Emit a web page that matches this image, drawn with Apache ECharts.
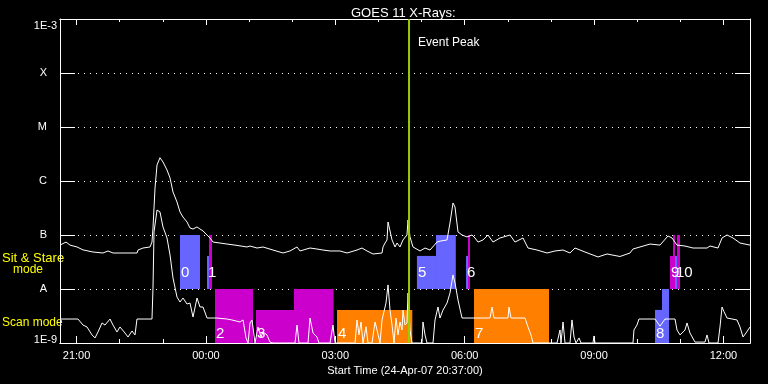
<!DOCTYPE html>
<html><head><meta charset="utf-8">
<script src="https://cdn.jsdelivr.net/npm/echarts@6/dist/echarts.min.js"></script>
<style>html,body{margin:0;padding:0;background:#000}#c{width:768px;height:384px}</style>
</head><body><div id="c"></div>
<script>
// Time in hours since 00:00 24-Apr-07 (24 = 00:00 25-Apr)
const longTime = [20.617,20.756,20.849,21.011,21.150,21.382,21.614,21.730,21.846,22.402,22.426,22.541,22.704,22.750,22.773,22.820,22.866,22.935,23.005,23.098,23.168,23.237,23.330,23.399,23.469,23.562,23.631,23.701,23.794,23.863,23.933,24.026,24.095,24.165,24.327,24.489,24.675,24.953,25.023,25.185,25.324,25.556,25.788,25.950,26.113,26.182,26.414,26.576,26.715,26.878,27.110,27.272,27.504,27.620,27.736,27.875,28.084,28.107,28.153,28.200,28.223,28.269,28.316,28.385,28.432,28.501,28.570,28.663,28.686,28.733,28.802,28.965,29.081,29.197,29.359,29.428,29.591,29.660,29.730,29.776,29.846,29.939,30.055,30.171,30.240,30.310,30.426,30.542,30.657,30.820,31.052,31.167,31.353,31.469,31.678,31.910,32.095,32.281,32.443,32.559,32.791,33.092,33.301,33.602,33.834,33.903,34.066,34.298,34.530,34.715,34.808,34.924,35.109,35.295,35.620,35.690,35.875,35.968,36.084,36.223,36.385,36.617];
const longFlux = [6.5e-8,7.4e-8,6.5e-8,6.0e-8,5.3e-8,4.84e-8,4.64e-8,5.06e-8,4.64e-8,4.64e-8,5.27e-8,5.74e-8,6.0e-8,7.4e-8,1.35e-7,7.4e-7,1.98e-6,2.7e-6,2.25e-6,1.6e-6,1.14e-6,6.25e-7,4.08e-7,2.67e-7,2.15e-7,1.74e-7,1.35e-7,1.29e-7,1.41e-7,1.29e-7,1.19e-7,1.0e-7,8.8e-8,7.4e-8,7.1e-8,6.8e-8,6.5e-8,6.0e-8,6.25e-8,5.74e-8,6.0e-8,5.27e-8,4.64e-8,5.06e-8,6.0e-8,5.06e-8,5.74e-8,5.5e-8,5.27e-8,5.06e-8,5.06e-8,4.64e-8,5.27e-8,5.74e-8,5.06e-8,4.45e-8,4.64e-8,6.0e-8,7.1e-8,8.1e-8,1.74e-7,1.6e-7,8.1e-8,6.0e-8,7.1e-8,6.0e-8,8.1e-8,1.0e-7,1.9e-7,9.2e-8,6.0e-8,5.06e-8,5.74e-8,5.27e-8,7.4e-8,7.7e-8,8.1e-8,1.67e-7,3.92e-7,3.3e-7,1.14e-7,1.0e-7,9.2e-8,1.0e-7,8.8e-8,7.4e-8,8.1e-8,1.0e-7,7.4e-8,8.8e-8,1.0e-7,7.4e-8,8.8e-8,5.74e-8,5.27e-8,4.64e-8,5.06e-8,5.27e-8,4.64e-8,5.74e-8,4.84e-8,3.92e-8,4.45e-8,4.0e-8,4.64e-8,5.5e-8,6.0e-8,6.8e-8,6.5e-8,9.6e-8,8.8e-8,6.5e-8,6.25e-8,5.74e-8,5.74e-8,6.25e-8,5.74e-8,8.8e-8,1.0e-7,8.8e-8,7.1e-8,6.5e-8];

const shortTime = [20.617,21.034,21.150,21.243,21.359,21.428,21.498,21.591,21.660,21.776,21.846,21.938,22.008,22.124,22.194,22.287,22.356,22.402,22.750,22.773,22.797,22.866,22.935,23.005,23.098,23.168,23.237,23.330,23.399,23.469,23.562,23.631,23.701,23.794,23.863,23.933,24.026,24.258,24.489,24.605,24.791,24.861,24.930,24.977,25.023,25.069,25.139,25.208,25.278,25.324,25.417,25.486,25.556,26.066,26.113,26.159,26.368,26.414,26.484,26.576,26.623,26.878,26.947,26.994,27.458,27.504,27.551,27.597,27.643,27.713,27.759,27.852,27.922,27.968,28.038,28.084,28.130,28.176,28.223,28.269,28.316,28.362,28.408,28.455,28.501,28.548,28.570,28.617,28.663,28.686,28.733,28.779,29.011,29.034,29.081,29.127,29.266,29.313,29.382,29.428,29.498,29.591,29.660,29.730,29.776,29.846,29.939,30.357,30.588,30.634,30.681,31.005,31.028,31.075,31.399,31.469,31.539,31.585,32.142,32.211,32.234,32.281,32.327,32.443,32.489,32.536,32.582,32.652,32.698,32.976,32.999,33.022,33.903,33.926,33.996,34.042,34.414,34.530,34.646,34.878,34.924,34.994,35.109,35.156,35.225,35.341,35.573,35.620,35.666,35.875,35.921,35.968,36.014,36.084,36.315,36.385,36.455,36.524,36.617];
const shortFlux = [2.78e-9,2.78e-9,2.15e-9,1.98e-9,1.41e-9,1.24e-9,1.6e-9,2.35e-9,2.15e-9,2.78e-9,2.15e-9,1.6e-9,1.98e-9,1.53e-9,1.29e-9,1.67e-9,1.41e-9,2.78e-9,2.78e-9,1.04e-8,1.14e-7,2.9e-7,2.67e-7,1.41e-7,8.8e-8,4.27e-8,1.6e-8,7.1e-9,5.74e-9,6.8e-9,5.27e-9,5.5e-9,3.03e-9,6.8e-9,4.64e-9,4.64e-9,2.9e-9,2.9e-9,2.78e-9,2.67e-9,2.45e-9,2.67e-9,1.24e-9,1.0e-9,2.35e-9,2.67e-9,1.0e-9,1.98e-9,1.29e-9,1.6e-9,1.41e-9,1.04e-9,1.0e-9,1.0e-9,2.15e-9,1.0e-9,1.0e-9,2.9e-9,1.53e-9,1.29e-9,1.0e-9,1.0e-9,2.15e-9,1.0e-9,1.0e-9,2.67e-9,1.41e-9,2.45e-9,1.0e-9,2.0e-9,1.0e-9,1.0e-9,2.45e-9,1.74e-9,1.0e-9,2.67e-9,2.9e-9,5.5e-9,1.19e-8,4.08e-9,2.15e-9,1.0e-9,2.9e-9,1.41e-9,2.45e-9,1.74e-9,4.08e-9,2.15e-9,2.35e-9,8.4e-9,1.74e-9,1.0e-9,1.0e-9,2.45e-9,1.41e-9,1.0e-9,1.0e-9,2.67e-9,4.64e-9,2.9e-9,4.08e-9,5.5e-9,8.4e-9,1.82e-8,1.3e-8,6.25e-9,2.9e-9,2.9e-9,2.9e-9,4.64e-9,2.9e-9,2.9e-9,4.64e-9,2.9e-9,2.9e-9,1.98e-9,1.41e-9,1.0e-9,1.0e-9,1.74e-9,1.0e-9,2.45e-9,1.0e-9,1.0e-9,2.67e-9,1.29e-9,1.0e-9,1.24e-9,1.0e-9,1.0e-9,1.35e-9,1.0e-9,1.0e-9,1.74e-9,2.15e-9,2.78e-9,2.78e-9,2.05e-9,2.78e-9,2.78e-9,1.74e-9,1.41e-9,1.74e-9,2.35e-9,1.53e-9,1.04e-9,1.04e-9,1.41e-9,1.0e-9,1.0e-9,1.98e-9,4.64e-9,3.8e-9,2.9e-9,2.67e-9,1.98e-9,1.29e-9,1.53e-9,1.98e-9];

// Observation blocks
const blockStart = [23.399,24.026,24.072,24.211,25.162,26.043,27.040,28.893,29.336,30.032,30.078,30.217,34.414,34.576,34.762,34.831,34.878,34.924];
const blockEnd   = [23.863,24.072,24.142,25.092,26.043,26.960,28.786,29.336,29.795,30.078,30.124,31.956,34.576,34.739,34.831,34.878,34.924,34.994];
const blockTop   = [1e-7,4.1e-8,1e-7,1e-8,4.1e-9,1e-8,4.1e-9,4.1e-8,1e-7,4.1e-8,1e-7,1e-8,4.1e-9,1e-8,4.1e-8,1e-7,4.1e-8,1e-7];
const blockMode  = ['stare','stare','stare','scan','scan','scan','scan','stare','stare','stare','stare','scan','scan','scan','stare','stare','stare','stare'];
const blockColor = ['blue','blue','magenta','magenta','magenta','magenta','orange','blue','blue','blue','magenta','orange','blue','blue','magenta','magenta','blue','magenta'];

const obsNames = ['0','1','2','3','4','5','6','7','8','9','10'];
const obsStart = [23.399,24.026,24.211,25.162,27.040,28.893,30.032,30.217,34.414,34.762,34.878];
const obsMode  = ['stare','stare','scan','scan','scan','stare','stare','scan','scan','stare','stare'];

const eventPeak = [28.71];

const yTickLabels = ['1E-9','A','B','C','M','X','1E-3'];
const majorHours = [21,24,27,30,33,36];
const minorHours = [22,23,25,26,28,29,31,32,34,35];

const X_MIN = 20.6167, X_MAX = 36.6167;
const FONT = 'Liberation Sans';
const colorMap = {blue:'#6666ff', magenta:'#cc00cc', orange:'#ff8000'};
const bandBottom = {stare:1e-8, scan:1e-9};
const labelLevel = {stare:2.0e-8, scan:1.5e-9};

function hhmm(v){ const h = Math.round(v) % 24; return (h<10?'0':'')+h+':00'; }
function zip(a,b){ return a.map((t,i)=>[t,b[i]]); }

function xAx(pos, len, vals, extra){
  return Object.assign({type:'value', min:X_MIN, max:X_MAX, position:pos,
    axisLine:{show:true, lineStyle:{color:'#fff', width:1}},
    axisTick:{show:true, inside:true, length:len, customValues:vals, lineStyle:{color:'#fff', width:1}},
    axisLabel:{show:false}, splitLine:{show:false}}, extra||{});
}

const chart = echarts.init(document.getElementById('c'));
chart.setOption({
  backgroundColor:'#000',
  animation:false,
  title:{text:'GOES 11 X-Rays:', left:346, top:2, textStyle:{color:'#fff', fontFamily:FONT, fontSize:13, fontWeight:'normal'}},
  grid:{left:60, right:18, top:19, bottom:41, containLabel:false},
  xAxis:[
    xAx('bottom',7,majorHours,{axisLabel:{show:true, customValues:majorHours, formatter:hhmm, color:'#fff', fontFamily:FONT, fontSize:11, margin:7},
      name:'Start Time (24-Apr-07 20:37:00)', nameLocation:'middle', nameGap:20,
      nameTextStyle:{color:'#fff', fontFamily:FONT, fontSize:11}}),
    xAx('bottom',4,minorHours),
    xAx('top',6,majorHours),
    xAx('top',3,minorHours)
  ],
  yAxis:[
    {type:'log', logBase:10, min:1e-9, max:1e-3, interval:1, position:'left',
      axisLine:{show:true, lineStyle:{color:'#fff', width:1}},
      axisTick:{show:true, inside:true, length:15, lineStyle:{color:'#fff'}},
      axisLabel:{show:true, margin:3, color:'#fff', fontFamily:FONT, fontSize:11,
        formatter:function(v){ const i = Math.round(Math.log10(v))+9; const s = yTickLabels[i];
          if(i===6) return '{t|'+s+'}'; if(i===0) return '{b|'+s+'}'; return '{l|'+s+'}'; },
        rich:{t:{padding:[14,0,0,0], color:'#fff', fontFamily:FONT, fontSize:11},
              b:{padding:[0,0,6,0], color:'#fff', fontFamily:FONT, fontSize:11},
              l:{padding:[0,10,0,0], color:'#fff', fontFamily:FONT, fontSize:11}}},
      splitLine:{show:true, lineStyle:{color:'#fff', width:1, type:[1,5]}}},
    {type:'log', logBase:10, min:1e-9, max:1e-3, interval:1, position:'right',
      axisLine:{show:true, lineStyle:{color:'#fff', width:1}},
      axisTick:{show:true, inside:true, length:15, lineStyle:{color:'#fff'}},
      axisLabel:{show:false}, splitLine:{show:false}}
  ],
  graphic:[
    {type:'text', left:2, top:252, style:{text:'Sit & Stare', fill:'#ffff00', font:'13px "Liberation Sans"'}},
    {type:'text', left:13, top:264, style:{text:'mode', fill:'#ffff00', font:'12px "Liberation Sans"'}},
    {type:'text', left:2, top:317, style:{text:'Scan mode', fill:'#ffff00', font:'12px "Liberation Sans"'}}
  ],
  series:[
    {type:'custom', name:'blocks', z:1, silent:true, clip:true,
      data: blockStart.map((s,i)=>[s, blockEnd[i], blockTop[i], bandBottom[blockMode[i]]]),
      encode:{x:[0,1], y:[2,3]},
      renderItem:function(params, api){
        const p0 = api.coord([api.value(0), api.value(2)]);
        const p1 = api.coord([api.value(1), api.value(3)]);
        return {type:'rect', shape:{x:p0[0], y:p0[1], width:p1[0]-p0[0], height:p1[1]-p0[1]},
          style:{fill:colorMap[blockColor[params.dataIndex]]}};
      }},
    {type:'line', name:'long', z:3, symbol:'none', showSymbol:false, data:zip(longTime,longFlux),
      lineStyle:{color:'#fff', width:1}},
    {type:'line', name:'short', z:3, symbol:'none', showSymbol:false, data:zip(shortTime,shortFlux),
      lineStyle:{color:'#fff', width:1}},
    {type:'custom', name:'labels', z:4, silent:true,
      data: obsStart.map((s,i)=>[s, labelLevel[obsMode[i]]]),
      encode:{x:0, y:1},
      renderItem:function(params, api){
        const p = api.coord([api.value(0), api.value(1)]);
        return {type:'text', x:p[0]+1, y:p[1], style:{text:obsNames[params.dataIndex], fill:'#fff',
          font:'15px "Liberation Sans"', verticalAlign:'middle', align:'left'}};
      }},
    {type:'custom', name:'event', z:5, silent:true,
      data: eventPeak.map(t=>[t]),
      encode:{x:0},
      renderItem:function(params, api){
        const top = api.coord([api.value(0), 1e-3]);
        const bot = api.coord([api.value(0), 1e-9]);
        return {type:'group', children:[
          {type:'line', shape:{x1:top[0], y1:top[1], x2:bot[0], y2:bot[1]}, style:{stroke:'#99cc00', lineWidth:2}},
          {type:'text', x:top[0]+9, y:top[1]+24, style:{text:'Event Peak', fill:'#fff', font:'12px "Liberation Sans"', verticalAlign:'middle'}}
        ]};
      }}
  ]
});
</script></body></html>
